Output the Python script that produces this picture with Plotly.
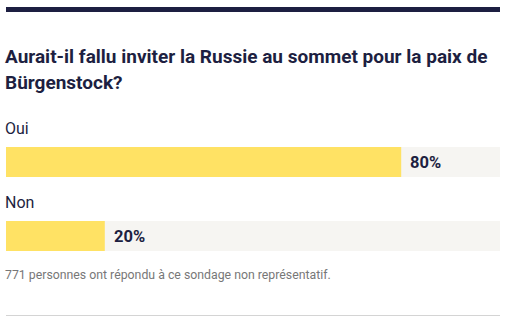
import plotly.graph_objects as go

# Survey data
answers = ["Oui", "Non"]
shares = [80, 20]
title_lines = ["Aurait-il fallu inviter la Russie au sommet pour la paix de", "Bürgenstock?"]
note = "771 personnes ont répondu à ce sondage non représentatif."

W, H = 506, 323
NAVY = "#1d1f41"
YELLOW = "#ffe264"
TRACK = "#f6f5f2"
FONT = "Roboto"
PAD = -3  # compensates the annotation box padding so text lines up with the bars

fig = go.Figure()

# light full-width track behind every answer
fig.add_trace(go.Bar(
    y=answers, x=[100] * len(answers), orientation="h",
    marker=dict(color=TRACK, line=dict(width=0)),
    width=0.405, hoverinfo="skip", showlegend=False,
))
# share of respondents
fig.add_trace(go.Bar(
    y=answers, x=shares, orientation="h",
    marker=dict(color=YELLOW, line=dict(width=0)),
    width=0.405, showlegend=False,
))

annotations = []
# title
for line, ypix in zip(title_lines, [56, 82]):
    annotations.append(dict(text=f"<b>{line}</b>", x=0, y=1 - ypix / H, xshift=PAD,
                            xref="paper", yref="paper", xanchor="left", yanchor="middle",
                            showarrow=False, font=dict(family=FONT, size=19, color=NAVY)))
for ans, val in zip(answers, shares):
    # answer label above the bar
    annotations.append(dict(text=ans, x=0, y=ans, xref="x", yref="y",
                            xanchor="left", yanchor="middle", yshift=34, xshift=PAD,
                            showarrow=False, font=dict(family=FONT, size=16, color=NAVY)))
    # value label right of the yellow bar
    annotations.append(dict(text=f"<b>{val}%</b>", x=val, y=ans, xref="x", yref="y",
                            xanchor="left", yanchor="middle", xshift=7,
                            showarrow=False, font=dict(family=FONT, size=16.5, color=NAVY)))
annotations.append(dict(text=note, x=0, y=1 - 275 / H, xshift=PAD, xref="paper", yref="paper",
                        xanchor="left", yanchor="middle", showarrow=False,
                        font=dict(family=FONT, size=12.3, color="#777777")))

shapes = [
    dict(type="rect", xref="paper", yref="paper", x0=0, x1=1,
         y0=1 - 12 / H, y1=1 - 7 / H, fillcolor=NAVY, line=dict(width=0)),
    dict(type="line", xref="paper", yref="paper", x0=0, x1=1,
         y0=1 - 315.5 / H, y1=1 - 315.5 / H, line=dict(color="#d4d4d4", width=1)),
]

# category axis: 74 px between bar centres, first bar centred 162 px from the top
step = 74.0
lo = -162 / step
hi = lo + H / step

fig.update_layout(
    width=W, height=H,
    margin=dict(l=6, r=6, t=0, b=0),
    paper_bgcolor="white", plot_bgcolor="white",
    barmode="overlay",
    xaxis=dict(range=[0, 100], visible=False, fixedrange=True),
    yaxis=dict(range=[hi, lo], visible=False, fixedrange=True,
               categoryorder="array", categoryarray=answers),
    annotations=annotations,
    shapes=shapes,
    showlegend=False,
)

fig.write_html("out.html", config={"displayModeBar": False})
